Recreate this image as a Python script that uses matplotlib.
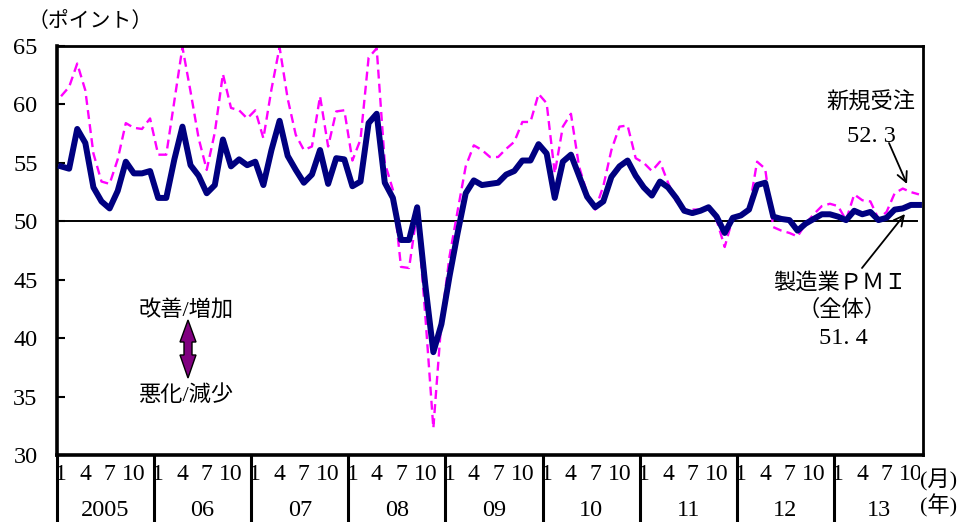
import matplotlib
matplotlib.use("Agg")
import matplotlib.pyplot as plt
import matplotlib.transforms as mtransforms
from matplotlib.patches import Polygon
import numpy as np

plt.rcParams['font.family'] = ['Liberation Serif', 'Noto Sans CJK JP', 'DejaVu Sans']

# ---------------- data ----------------
years = ['2005', '06', '07', '08', '09', '10', '11', '12', '13']
months_per_year = [12, 12, 12, 12, 12, 12, 12, 12, 11]
month_labels = [1, 4, 7, 10]

pmi = [
    54.7, 54.5, 57.9, 56.7, 52.9, 51.7, 51.1, 52.6, 55.1, 54.1, 54.1, 54.3,
    52.0, 52.0, 55.3, 58.1, 54.8, 53.9, 52.4, 53.1, 57.0, 54.7, 55.3, 54.8,
    55.1, 53.1, 56.1, 58.6, 55.6, 54.4, 53.3, 54.0, 56.1, 53.2, 55.4, 55.3,
    53.0, 53.4, 58.4, 59.2, 53.3, 52.0, 48.4, 48.4, 51.2, 44.6, 38.8, 41.2,
    45.3, 49.0, 52.4, 53.5, 53.1, 53.2, 53.3, 54.0, 54.3, 55.2, 55.2, 56.6,
    55.8, 52.0, 55.1, 55.7, 53.9, 52.1, 51.2, 51.7, 53.8, 54.7, 55.2, 53.9,
    52.9, 52.2, 53.4, 52.9, 52.0, 50.9, 50.7, 50.9, 51.2, 50.4, 49.0, 50.3,
    50.5, 51.0, 53.1, 53.3, 50.4, 50.2, 50.1, 49.2, 49.8, 50.2, 50.6, 50.6,
    50.4, 50.1, 50.9, 50.6, 50.8, 50.1, 50.3, 51.0, 51.1, 51.4, 51.4,
]

new_orders = [
    60.7, 61.5, 63.5, 61.2, 55.8, 53.4, 53.2, 55.3, 58.4, 58.0, 57.9, 58.8,
    55.7, 55.7, 60.3, 64.9, 61.1, 57.1, 54.4, 57.6, 62.6, 59.7, 59.5, 58.8,
    59.5, 57.1, 61.3, 64.9, 60.5, 57.4, 56.1, 56.4, 60.7, 56.4, 59.4, 59.5,
    55.2, 57.0, 64.0, 64.8, 55.0, 52.7, 46.1, 46.0, 50.8, 42.0, 32.3, 41.5,
    47.0, 50.9, 54.7, 56.5, 56.1, 55.5, 55.5, 56.2, 56.8, 58.5, 58.5, 60.9,
    60.1, 54.1, 58.1, 59.2, 54.7, 52.4, 51.0, 53.0, 56.1, 58.1, 58.2, 55.4,
    55.0, 54.3, 55.1, 53.3, 51.7, 51.0, 51.0, 51.0, 51.2, 50.1, 47.8, 50.3,
    50.5, 51.0, 55.1, 54.5, 49.5, 49.2, 49.0, 48.7, 49.8, 50.6, 51.3, 51.5,
    51.3, 50.1, 52.3, 51.8, 51.7, 50.2, 50.8, 52.4, 52.8, 52.5, 52.3,
]

# month numbers for every point
months = []
for nm in months_per_year:
    months += list(range(1, nm + 1))

# ---------------- figure ----------------
W, H = 970, 522
fig = plt.figure(figsize=(W / 100, H / 100), dpi=100)
L, R, T, B = 57, 923, 46, 455
ax = fig.add_axes([L / W, 1 - B / H, (R - L) / W, (B - T) / H])


def fpx(px, py):
    return (px / W, 1 - py / H)


n = len(pmi)
x = np.arange(n)
ax.plot(x, new_orders, color='#FF00FF', lw=1.7, ls=(0, (3.8, 2.2)), zorder=2)
ax.plot(x, pmi, color='#000080', lw=4.3, zorder=3, solid_joinstyle='round')
ax.axhline(50, xmin=0, xmax=(917 - L) / (R - L), color='black', lw=1.4, zorder=1)

ax.set_xlim(-0.5, n - 0.5)
ax.set_ylim(30, 65)
ax.set_yticks(range(30, 66, 5))
ax.set_xticks([])
ax.tick_params(axis='y', direction='in', length=6, width=1.5, pad=14, labelsize=17.5)
for s in ['left', 'bottom']:
    ax.spines[s].set_linewidth(2.6)
for s in ['top', 'right']:
    ax.spines[s].set_linewidth(2.0)

# ---------------- x axis "table" ----------------
trans = mtransforms.blended_transform_factory(ax.transData, ax.transAxes)
row1 = -(475 - B) / (B - T)
row2 = -(511 - B) / (B - T)
bottom_edge = -(H - B + 2) / (B - T)
for i, m in enumerate(months):
    if m in month_labels:
        ax.text(i, row1, str(m), transform=trans, ha='center', va='center',
                fontsize=17, clip_on=False)
start = 0
for yl, nm in zip(years, months_per_year):
    ax.plot([start - 0.5, start - 0.5], [0, bottom_edge], transform=trans,
            color='black', lw=2.2, clip_on=False, solid_capstyle='butt')
    ax.text(start + (nm - 1) / 2, row2, yl, transform=trans, ha='center',
            va='center', fontsize=17.5, clip_on=False)
    start += nm

fig.text(*fpx(920, 480), '(月)', ha='left', va='center', fontsize=16,
         bbox=dict(facecolor='white', edgecolor='none', pad=0.3))
fig.text(*fpx(920, 506), '(年)', ha='left', va='center', fontsize=16)

# ---------------- annotations ----------------
fig.text(*fpx(90, 22), '（ポイント）', ha='center', va='center', fontsize=15)

fig.text(*fpx(871, 103), '新規受注', ha='center', va='center', fontsize=16)
fig.text(*fpx(871, 136), '52. 3', ha='center', va='center', fontsize=17.5)
fig.text(*fpx(840, 283), '製造業ＰＭＩ', ha='center', va='center', fontsize=16)
fig.text(*fpx(842, 310), '（全体）', ha='center', va='center', fontsize=16)
fig.text(*fpx(843, 338), '51. 4', ha='center', va='center', fontsize=17.5)

ax.annotate('', xy=fpx(907, 184), xytext=fpx(889, 143),
            xycoords='figure fraction', textcoords='figure fraction',
            arrowprops=dict(arrowstyle='->', lw=1.3, color='black',
                            mutation_scale=18, shrinkA=0, shrinkB=0))
ax.annotate('', xy=fpx(905, 214), xytext=fpx(862, 268),
            xycoords='figure fraction', textcoords='figure fraction',
            arrowprops=dict(arrowstyle='->', lw=1.3, color='black',
                            mutation_scale=18, shrinkA=0, shrinkB=0))

fig.text(*fpx(186, 311), '改善/増加', ha='center', va='center', fontsize=16)
fig.text(*fpx(186, 396), '悪化/減少', ha='center', va='center', fontsize=16)

cx = 188
arrow_px = [(cx, 320), (cx + 8, 342), (cx + 4, 342), (cx + 4, 355), (cx + 8, 355),
            (cx, 378), (cx - 8, 355), (cx - 4, 355), (cx - 4, 342), (cx - 8, 342)]
poly = Polygon([fpx(px, py) for px, py in arrow_px], closed=True,
               transform=fig.transFigure, facecolor='#800080',
               edgecolor='black', lw=1.0)
fig.add_artist(poly)

fig.savefig('out.png', dpi=100)
